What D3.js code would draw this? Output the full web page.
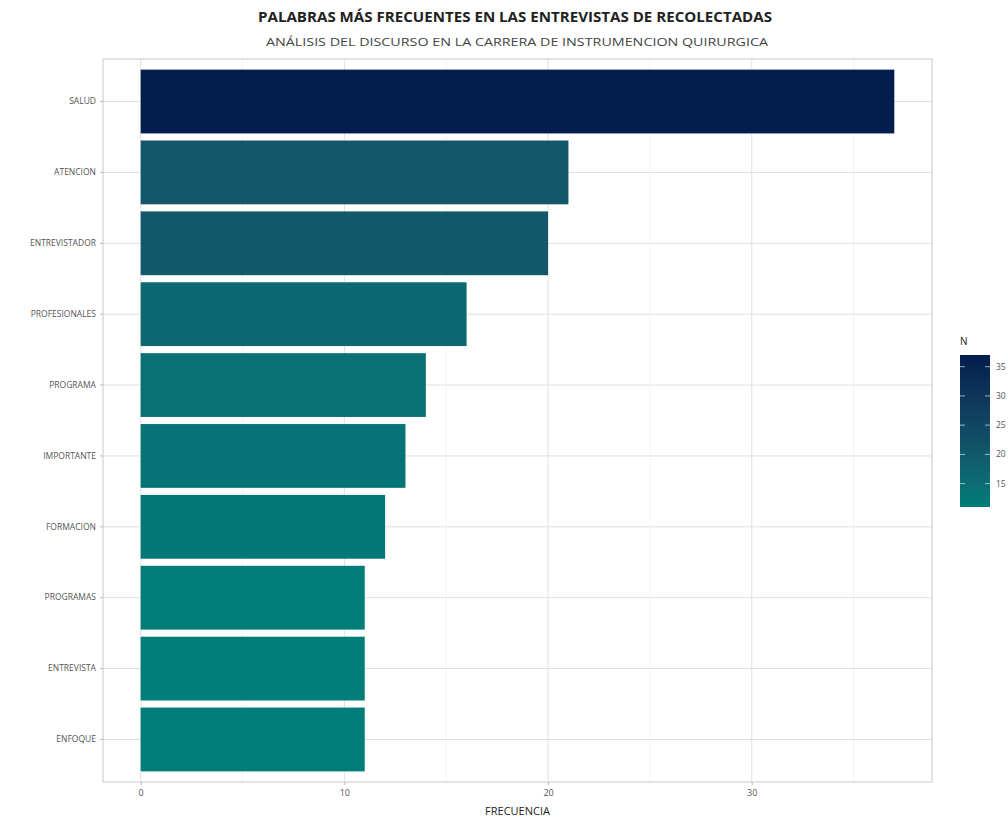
<!DOCTYPE html>
<html><head><meta charset="utf-8">
<script src="https://cdn.jsdelivr.net/npm/d3@7"></script>
<style>body{margin:0;background:#fff;} text{font-family:"Liberation Sans Narrow","Open Sans",sans-serif;}</style>
</head><body>
<svg id="c" width="1008" height="821"></svg>
<script>
const words = ["SALUD","ATENCION","ENTREVISTADOR","PROFESIONALES","PROGRAMA","IMPORTANTE","FORMACION","PROGRAMAS","ENTREVISTA","ENFOQUE"];
const counts = [37,21,20,16,14,13,12,11,11,11];
const xTicks = [0,10,20,30];
const xMinor = [5,15,25,35];
const legendTicks = [15,20,25,30,35];
const title = "PALABRAS MÁS FRECUENTES EN LAS ENTREVISTAS DE RECOLECTADAS";
const subtitle = "ANÁLISIS DEL DISCURSO EN LA CARRERA DE INSTRUMENCION QUIRURGICA";
const xLabel = "FRECUENCIA";
const legendTitle = "N";

const svg = d3.select("#c");
const L = 103, R = 932, T = 59, B = 782;
const maxV = d3.max(counts), minV = d3.min(counts);
const pad = maxV*0.05;
const x = d3.scaleLinear().domain([-pad, maxV+pad]).range([L, R]);
const y = d3.scaleBand().domain(words).range([T, B]).paddingInner(0.1).paddingOuter(0.15);
const color = d3.scaleLinear().domain([minV, maxV]).range(["#007C79","#021D4E"]).interpolate(d3.interpolateLab);

// grid
const g = svg.append("g");
g.selectAll(".minor").data(xMinor).join("line")
  .attr("x1",d=>x(d)).attr("x2",d=>x(d)).attr("y1",T).attr("y2",B)
  .attr("stroke","#ececec").attr("stroke-width",0.6);
g.selectAll(".major").data(xTicks).join("line")
  .attr("x1",d=>x(d)).attr("x2",d=>x(d)).attr("y1",T).attr("y2",B)
  .attr("stroke","#e0e0e0").attr("stroke-width",1);
g.selectAll(".hy").data(words).join("line")
  .attr("x1",L).attr("x2",R).attr("y1",d=>y(d)+y.bandwidth()/2).attr("y2",d=>y(d)+y.bandwidth()/2)
  .attr("stroke","#e0e0e0").attr("stroke-width",1);

// bars
svg.selectAll(".bar").data(words).join("rect")
  .attr("x",x(0)).attr("y",d=>y(d))
  .attr("width",(d,i)=>x(counts[i])-x(0)).attr("height",y.bandwidth())
  .attr("fill",(d,i)=>color(counts[i]));

// panel border
svg.append("rect").attr("x",L).attr("y",T).attr("width",R-L).attr("height",B-T)
  .attr("fill","none").attr("stroke","#c8c8c8").attr("stroke-width",1);

// axes
const xa = svg.append("g").attr("transform",`translate(0,${B})`)
  .call(d3.axisBottom(x).tickValues(xTicks).tickSize(3).tickPadding(5).tickFormat(d3.format("d")));
xa.select(".domain").remove();
xa.selectAll("line").attr("stroke","#bbb");
xa.selectAll("text").attr("fill","#555").attr("font-size",9);

const ya = svg.append("g").attr("transform",`translate(${L},0)`)
  .call(d3.axisLeft(y).tickSize(3).tickPadding(4));
ya.select(".domain").remove();
ya.selectAll("line").attr("stroke","#bbb");
ya.selectAll("text").attr("fill","#555").attr("font-size",8.5);

// titles
svg.append("text").attr("x",515).attr("y",22).attr("text-anchor","middle")
  .attr("font-size",14).attr("font-weight","bold").attr("fill","#222")
  .attr("textLength",514).attr("lengthAdjust","spacingAndGlyphs").text(title);
svg.append("text").attr("x",517).attr("y",46).attr("text-anchor","middle")
  .attr("font-size",11).attr("fill","#444")
  .attr("textLength",502).attr("lengthAdjust","spacingAndGlyphs").text(subtitle);
svg.append("text").attr("x",(L+R)/2).attr("y",815).attr("text-anchor","middle")
  .attr("font-size",11).attr("fill","#222").text(xLabel);

// legend
const lx = 960, lw = 30, lt = 355, lb = 507;
const ly = d3.scaleLinear().domain([minV, maxV]).range([lb, lt]);
const defs = svg.append("defs");
const grad = defs.append("linearGradient").attr("id","lg").attr("x1",0).attr("y1",1).attr("x2",0).attr("y2",0);
d3.range(0,1.0001,0.1).forEach(t=>{
  grad.append("stop").attr("offset",t).attr("stop-color",color(minV+t*(maxV-minV)));
});
svg.append("rect").attr("x",lx).attr("y",lt).attr("width",lw).attr("height",lb-lt).attr("fill","url(#lg)");
const lg = svg.append("g");
lg.selectAll(".tl").data(legendTicks).join("line")
  .attr("x1",lx).attr("x2",lx+5).attr("y1",d=>ly(d)).attr("y2",d=>ly(d)).attr("stroke","#fff").attr("stroke-opacity",0.6);
lg.selectAll(".tr").data(legendTicks).join("line")
  .attr("x1",lx+lw-5).attr("x2",lx+lw).attr("y1",d=>ly(d)).attr("y2",d=>ly(d)).attr("stroke","#fff").attr("stroke-opacity",0.6);
lg.selectAll("text").data(legendTicks).join("text")
  .attr("x",lx+lw+6).attr("y",d=>ly(d)+3).attr("font-size",8.5).attr("fill","#555").text(d=>d);
svg.append("text").attr("x",lx).attr("y",345).attr("font-size",10).attr("fill","#222").text(legendTitle);
</script>
</body></html>
